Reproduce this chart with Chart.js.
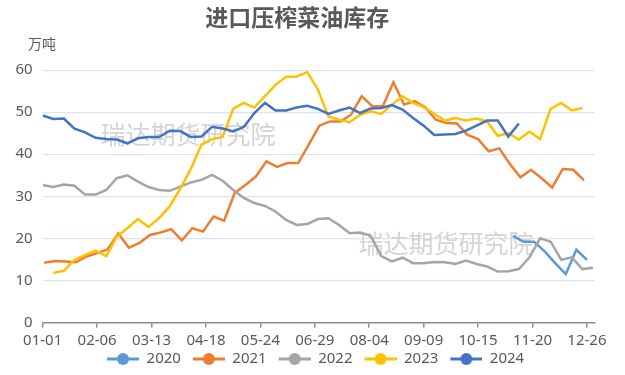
<!DOCTYPE html>
<html>
<head>
<meta charset="utf-8">
<script src="https://cdn.jsdelivr.net/npm/chart.js@4/dist/chart.umd.min.js"></script>
<style>
  html, body { margin: 0; padding: 0; background: #ffffff; }
  #wrap { width: 625px; height: 375px; position: relative; }
</style>
</head>
<body>
<div id="wrap"><canvas id="c" width="625" height="375"></canvas></div>
<script>
// ---- data (day-of-year on the x axis, weekly observations) ----
const tickLabels = ['01-01','02-06','03-13','04-18','05-24','06-29','08-04','09-09','10-15','11-20','12-26'];
const tickStepDays = 36;
const seriesNames = ['2020','2021','2022','2023','2024'];

const start2020 = 311;
const v2020 = [20.6, 19.2, 19.2, 16.9, 14.1, 11.5, 17.3, 14.9];

const start2021 = 1;
const v2021 = [14.2, 14.6, 14.5, 14.3, 15.7, 16.5, 17.4, 21.2, 17.8, 18.9,
               20.8, 21.4, 22.2, 19.5, 22.4, 21.6, 25.2, 24.2, 30.8, 32.7,
               34.7, 38.3, 37.0, 37.9, 37.9, 42.3, 46.8, 47.8, 47.8, 49.4,
               53.8, 51.4, 51.4, 57.1, 51.8, 52.6, 51.2, 48.2, 47.4, 47.3,
               44.6, 43.6, 40.7, 41.4, 37.7, 34.5, 36.3, 34.3, 32.1, 36.5,
               36.3, 33.8];

const start2022 = 0;
const v2022 = [32.7, 32.2, 32.8, 32.5, 30.4, 30.4, 31.5, 34.3, 35.0, 33.5,
               32.2, 31.5, 31.3, 32.3, 33.3, 33.9, 35.1, 33.7, 31.5, 29.6,
               28.4, 27.7, 26.4, 24.4, 23.2, 23.4, 24.6, 24.8, 23.2, 21.2,
               21.4, 20.6, 15.8, 14.5, 15.4, 14.1, 14.1, 14.4, 14.3, 13.9,
               14.7, 13.9, 13.3, 12.1, 12.2, 12.7, 15.5, 20.0, 19.2, 14.9,
               15.5, 12.7, 13.0];

const start2023 = 7;
const v2023 = [11.8, 12.3, 14.9, 16.0, 17.1, 15.8, 20.4, 22.4, 24.6, 22.7,
               24.8, 27.6, 31.8, 36.5, 42.3, 43.6, 44.1, 50.8, 52.2, 51.1,
               53.8, 56.5, 58.4, 58.5, 59.5, 55.4, 49.0, 48.2, 47.6, 49.4,
               50.2, 49.6, 51.8, 53.8, 52.2, 51.2, 49.6, 48.0, 48.6, 48.0,
               48.5, 47.8, 44.4, 45.0, 43.5, 45.4, 43.6, 50.8, 52.2, 50.4,
               51.0];

const start2024 = 0;
const v2024 = [49.2, 48.4, 48.5, 46.1, 45.2, 43.9, 43.6, 43.5, 42.6, 43.8,
               44.1, 44.1, 45.6, 45.5, 44.1, 44.2, 46.5, 46.1, 45.4, 46.5,
               49.8, 52.2, 50.4, 50.4, 51.1, 51.5, 50.8, 49.6, 50.4, 51.1,
               49.8, 50.9, 51.0, 51.7, 50.6, 48.6, 46.8, 44.6, 44.7, 44.8,
               45.6, 46.8, 48.0, 48.0, 44.2, 47.3];

const colors = ['#5B9BD5', '#ED7D31', '#A5A5A5', '#FFC000', '#4472C4'];

function weekly(start, values) {
  return values.map((v, i) => ({ x: start + 7 * i, y: v }));
}

const seriesData = [
  weekly(start2020, v2020),
  weekly(start2021, v2021),
  weekly(start2022, v2022),
  weekly(start2023, v2023),
  weekly(start2024, v2024)
];

// legend symbol: line with a dot, placed in the right part of a 40px box
function legendIcon(color) {
  const c = document.createElement('canvas');
  c.width = 40; c.height = 14;
  const g = c.getContext('2d');
  g.strokeStyle = color; g.lineWidth = 3;
  g.beginPath(); g.moveTo(8, 7); g.lineTo(40, 7); g.stroke();
  g.fillStyle = color;
  g.beginPath(); g.arc(24, 7, 6, 0, Math.PI * 2); g.fill();
  return c;
}

const FONT = '"Noto Sans", "Noto Sans CJK SC", sans-serif';
const CJK = '"Noto Sans CJK SC", "Noto Sans", sans-serif';
const TEXT = '#595959';

const extras = {
  id: 'extras',
  afterLayout(chart) {
    // nudge the legend row slightly left to sit where the reference has it
    if (chart.legend) {
      chart.legend.left -= 7;
      chart.legend.right -= 7;
    }
  },
  beforeDatasetsDraw(chart) {
    const ctx = chart.ctx;
    ctx.save();
    ctx.font = '25px ' + CJK;
    ctx.fillStyle = '#D4D4D4';
    ctx.textAlign = 'center';
    ctx.textBaseline = 'middle';
    ctx.fillText('瑞达期货研究院', 188, 134);
    ctx.fillText('瑞达期货研究院', 446, 243);
    ctx.restore();
  },
  afterDraw(chart) {
    const ctx = chart.ctx;
    ctx.save();
    ctx.font = '14px ' + CJK;
    ctx.fillStyle = TEXT;
    ctx.textAlign = 'left';
    ctx.textBaseline = 'middle';
    ctx.fillText('万吨', 28, 44);
    ctx.restore();
  }
};

Chart.defaults.font.family = FONT;
Chart.defaults.color = TEXT;

new Chart(document.getElementById('c'), {
  type: 'line',
  data: {
    datasets: seriesNames.map((name, i) => ({
      label: name,
      data: seriesData[i],
      borderColor: colors[i],
      backgroundColor: colors[i],
      borderWidth: 2.5,
      pointRadius: 0,
      pointHoverRadius: 0,
      tension: 0,
      fill: false,
      order: 4 - i
    }))
  },
  options: {
    responsive: false,
    animation: false,
    events: [],
    layout: { padding: { left: 0, right: 30.5, top: 0, bottom: 0 } },
    plugins: {
      title: {
        display: true,
        text: '进口压榨菜油库存',
        color: TEXT,
        font: { family: CJK, size: 23, weight: 'bold' },
        padding: { top: 3, bottom: 39.5 }
      },
      legend: {
        display: true,
        position: 'bottom',
        fullSize: false,
        maxHeight: 27.5,
        labels: {
          usePointStyle: true,
          pointStyleWidth: 40,
          boxHeight: 14,
          padding: 4,
          color: TEXT,
          font: { family: FONT, size: 15 },
          generateLabels(chart) {
            return chart.data.datasets.map((ds, i) => ({
              text: ds.label,
              pointStyle: legendIcon(ds.borderColor),
              fillStyle: ds.borderColor,
              strokeStyle: ds.borderColor,
              lineWidth: 0,
              fontColor: TEXT,
              hidden: false,
              datasetIndex: i
            }));
          }
        }
      },
      tooltip: { enabled: false }
    },
    scales: {
      x: {
        type: 'linear',
        min: 0,
        max: 365,
        afterFit(s) { s.height = 25; },
        ticks: {
          stepSize: tickStepDays,
          includeBounds: false,
          autoSkip: false,
          maxRotation: 0,
          padding: 4,
          color: TEXT,
          font: { size: 15 },
          callback(value) {
            const idx = Math.round(value / tickStepDays);
            return tickLabels[idx] !== undefined ? tickLabels[idx] : '';
          }
        },
        grid: {
          drawOnChartArea: false,
          drawTicks: true,
          tickLength: 5,
          color: '#8C8C8C',
          lineWidth: 1.5
        },
        border: { display: true, color: '#8C8C8C', width: 1.5 }
      },
      y: {
        min: 0,
        max: 60,
        afterFit(s) { s.width = 42.7; },
        ticks: {
          stepSize: 10,
          padding: 10,
          color: TEXT,
          font: { size: 15 }
        },
        grid: {
          color: '#DDE3F0',
          lineWidth: 1.2,
          drawTicks: false
        },
        border: { display: false }
      }
    }
  },
  plugins: [extras]
});
</script>
</body>
</html>
